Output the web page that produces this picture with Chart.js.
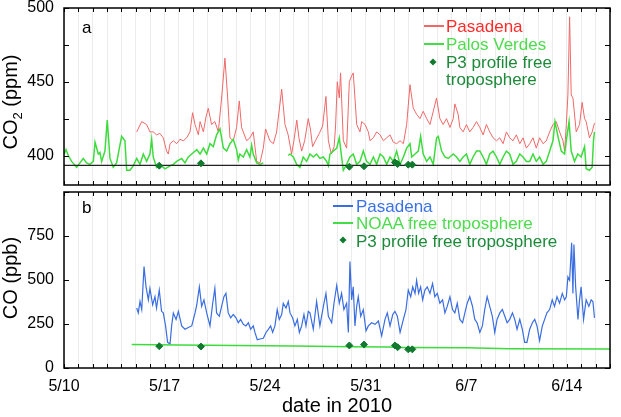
<!DOCTYPE html>
<html>
<head>
<meta charset="utf-8">
<script src="https://cdn.jsdelivr.net/npm/chart.js@4.4.1/dist/chart.umd.min.js"></script>
<style>
  body { margin: 0; background: #fff; font-family: "Liberation Sans", Arial, sans-serif; }
  #wrap { position: relative; width: 621px; height: 417px; overflow: hidden; }
  canvas { position: absolute; left: 0; }
  #top { top: 0; }
  #bot { top: 187px; }
  .t { position: absolute; white-space: nowrap; font-size: 17px; line-height: 17px; }
  .ln { position: absolute; width: 20px; height: 1.5px; }
  .dm { position: absolute; width: 5px; height: 5px; background: #127a2e; transform: translate(-50%, -50%) rotate(45deg); }
  .ax { position: absolute; white-space: nowrap; font-size: 20px; line-height: 20px; color: #000; }
  .rot { transform: translate(-50%, -50%) rotate(-90deg); }
</style>
</head>
<body>
<div id="wrap">
  <canvas id="top" width="621" height="190"></canvas>
  <canvas id="bot" width="621" height="230"></canvas>

  <div class="ax rot" style="left:10px; top:102px;">CO<sub style="font-size:13px; line-height:0;">2</sub> (ppm)</div>
  <div class="ax rot" style="left:10px; top:278px;">CO (ppb)</div>
  <div class="ax" style="left:337px; top:405px; transform: translate(-50%, -50%);">date in 2010</div>

  <div class="t" style="left:82px; top:19px;">a</div>
  <div class="t" style="left:82px; top:199px;">b</div>

  <div class="ln" style="left:424px; top:25px; background:#f06868;"></div>
  <div class="t" style="left:446px; top:17.5px; color:#ff2a2a;">Pasadena</div>
  <div class="ln" style="left:424px; top:43px; background:#44dd44;"></div>
  <div class="t" style="left:446px; top:35.5px; color:#4cdc4c;">Palos Verdes</div>
  <div class="dm" style="left:433px; top:62px;"></div>
  <div class="t" style="left:446px; top:53.5px; color:#1d8a3a;">P3 profile free</div>
  <div class="t" style="left:446px; top:71px; color:#1d8a3a;">troposphere</div>

  <div class="ln" style="left:333px; top:205px; background:#3a6ee0;"></div>
  <div class="t" style="left:356px; top:197.5px; color:#3a72e6;">Pasadena</div>
  <div class="ln" style="left:333px; top:222px; background:#44dd44;"></div>
  <div class="t" style="left:356px; top:215px; color:#4cdc4c;">NOAA free troposphere</div>
  <div class="dm" style="left:343px; top:240px;"></div>
  <div class="t" style="left:356px; top:233px; color:#1d8a3a;">P3 profile free troposphere</div>
</div>

<script>
// days since 5/10/2010
const xTickLabels = ["5/10", "5/17", "5/24", "5/31", "6/7", "6/14"];
const co2TickValues = [400, 425, 450, 475, 500];
const coTickValues = [0, 250, 500, 750, 1000];

const pasCo2Day = [5.06,5.41,5.75,5.98,6.21,6.44,6.67,6.91,7.14,7.26,7.38,7.61,7.84,8.07,8.3,8.54,8.77,8.95,9.12,9.35,9.47,9.7,9.88,10.04,10.27,10.5,10.74,10.97,11.2,11.39,11.55,11.78,12.01,12.2,12.36,12.71,12.94,13.17,13.41,13.64,13.87,14.03,14.33,14.57,14.8,15.15,15.38,15.6,15.84,16.0,16.2,16.35,16.54,16.75,17.0,17.15,17.3,17.5,17.77,18.0,18.23,18.4,18.6,18.8,18.9,19.02,19.16,19.25,19.44,19.67,19.86,20.02,20.13,20.25,20.37,20.6,20.72,20.95,21.18,21.3,21.53,21.76,22.0,22.23,22.46,22.69,22.92,23.15,23.39,23.62,23.85,23.96,24.08,24.31,24.54,24.77,25.0,25.24,25.47,25.7,25.93,26.16,26.39,26.62,26.86,27.09,27.2,27.43,27.55,27.78,28.01,28.24,28.47,28.71,28.94,29.17,29.4,29.63,29.86,30.1,30.33,30.56,30.79,31.02,31.25,31.48,31.72,31.95,32.18,32.41,32.64,32.87,33.1,33.34,33.57,33.8,34.03,34.26,34.49,34.73,34.84,34.96,35.07,35.19,35.3,35.42,35.65,35.88,36.06,36.23,36.34,36.57,36.76,36.92];
const pasCo2 = [416,423,421,416,416,414,415,412,403,401,408,410,408,411,410,412,416,429,421,414,423,416,426,432,421,423,416,439,466,439,412,410,419,437,419,410,412,416,396,395,405,418,410,408,416,445,421,414,401,410,424,412,403,410,425,418,406,410,415,420,440,410,401,406,420,450,439,456,410,405,450,454,456,439,421,416,423,421,416,410,412,416,414,410,412,414,409,408,410,408,421,434,448,432,428,425,430,425,421,430,439,425,421,425,419,425,435,428,419,416,421,416,419,423,419,414,421,416,412,410,412,408,416,412,410,414,408,412,405,408,412,405,412,408,410,416,421,423,416,410,403,421,441,494,441,439,416,421,436,425,423,412,416,422];

const pvDay = [0.02,0.14,0.3,0.53,0.88,1.11,1.34,1.57,1.8,2.04,2.16,2.39,2.5,2.62,2.85,3.01,3.2,3.43,3.66,4.01,4.24,4.36,4.59,4.82,5.06,5.29,5.52,5.75,5.98,6.1,6.21,6.44,6.67,7.03,7.38,7.61,7.84,8.19,8.42,8.65,8.89,9.24,9.47,9.7,9.93,10.16,10.39,10.62,10.86,11.09,11.32,11.55,11.78,12.01,12.13,12.24,12.48,12.71,12.94,13.06,13.17,13.41,13.64,13.87,14.7,15.61,15.73,15.96,16.19,16.42,16.65,16.89,17.12,17.35,17.58,17.81,18.05,18.28,18.4,18.51,18.74,18.98,19.16,19.32,19.44,19.67,19.9,20.13,20.37,20.6,20.83,21.06,21.3,21.53,21.76,22.0,22.23,22.46,22.69,22.92,23.15,23.39,23.62,23.85,24.08,24.2,24.43,24.66,24.82,25.0,25.24,25.47,25.7,25.93,26.05,26.28,26.51,26.74,27.09,27.32,27.55,27.78,28.01,28.24,28.47,28.71,28.94,29.17,29.4,29.63,29.86,30.1,30.33,30.56,30.79,31.02,31.25,31.48,31.72,31.95,32.18,32.41,32.64,32.87,33.1,33.34,33.57,33.8,34.03,34.17,34.4,34.61,34.84,34.96,35.15,35.3,35.53,35.76,35.99,36.23,36.34,36.57,36.76,36.85,36.92];
const pvCo2 = [401,404,400,396,392,395,398,395,394,396,409,401,402,396,403,424,398,392,395,413,410,390,390,393,398,394,401,396,401,411,399,392,394,391,393,394,396,398,395,399,401,404,401,405,401,408,406,414,418,405,403,408,411,404,397,401,399,404,399,407,401,395,394,395,null,400,401,399,394,392,399,396,401,399,401,398,399,396,393,401,403,405,412,399,390,394,399,401,394,396,403,396,394,399,394,401,399,394,399,396,403,394,399,405,408,399,401,403,413,401,396,399,394,412,413,403,399,398,401,399,396,399,401,394,399,403,403,399,394,401,403,399,394,399,403,401,394,396,401,399,396,396,401,396,399,394,396,403,410,423,412,403,401,410,423,403,396,401,399,406,391,390,392,410,416];

const ftCo2Day = [0, 38];
const ftCo2 = [393.3, 393.3];

const p3Day = [6.63, 9.53, 19.86, 20.88, 23.03, 23.22, 23.96, 24.24];
const p3Co2 = [393.1, 394.7, 392.4, 392.7, 395.3, 394.2, 393.8, 393.8];
const p3Co = [124, 122, 128, 133, 128, 118, 106, 106];

const pasCoDay = [5.06,5.17,5.29,5.41,5.57,5.71,5.87,5.98,6.17,6.33,6.44,6.63,6.79,6.91,7.07,7.21,7.38,7.49,7.61,7.8,7.96,8.19,8.42,8.65,8.89,9.12,9.24,9.42,9.58,9.74,9.93,10.16,10.35,10.5,10.62,10.81,10.97,11.13,11.27,11.43,11.6,11.78,11.97,12.13,12.29,12.48,12.66,12.83,12.99,13.17,13.29,13.45,13.64,13.87,14.06,14.22,14.38,14.52,14.68,14.84,14.98,15.15,15.26,15.45,15.61,15.73,15.91,16.07,16.24,16.38,16.54,16.7,16.84,17.0,17.12,17.35,17.58,17.81,18.05,18.23,18.4,18.63,18.79,18.98,19.16,19.32,19.48,19.67,19.79,19.9,20.02,20.13,20.25,20.37,20.48,20.65,20.83,21.02,21.18,21.41,21.65,21.88,22.11,22.34,22.5,22.69,22.88,23.03,23.2,23.39,23.62,23.8,23.96,24.13,24.27,24.43,24.54,24.68,24.82,24.96,25.12,25.28,25.47,25.65,25.81,25.98,26.16,26.35,26.51,26.67,26.86,27.04,27.2,27.37,27.55,27.74,27.9,28.06,28.24,28.43,28.59,28.75,28.94,29.12,29.28,29.45,29.63,29.81,29.98,30.14,30.33,30.51,30.68,30.84,31.02,31.21,31.37,31.53,31.72,31.9,32.06,32.22,32.41,32.6,32.76,32.92,33.1,33.29,33.45,33.61,33.8,33.98,34.14,34.31,34.49,34.68,34.84,34.96,35.07,35.19,35.33,35.42,35.49,35.61,35.77,35.88,35.99,36.16,36.34,36.53,36.69,36.81,36.92];
const pasCo = [341,313,378,332,576,461,387,452,359,405,341,443,322,313,239,146,137,239,313,276,322,239,220,230,239,313,359,461,350,387,313,239,368,452,313,294,350,405,424,313,285,304,285,257,276,248,239,257,220,239,202,161,165,169,202,220,239,202,239,332,276,304,368,341,378,313,285,239,276,202,239,304,239,322,313,220,378,239,350,424,294,257,368,470,368,424,332,368,202,605,387,461,239,350,405,294,332,211,239,257,248,267,183,276,313,239,304,322,294,202,276,332,443,405,461,424,498,424,461,387,443,461,424,480,405,424,368,387,313,350,405,332,313,368,276,257,313,368,405,350,276,257,202,239,332,405,350,294,202,276,313,332,294,257,276,313,276,220,276,220,146,146,220,257,276,239,156,239,276,313,332,387,350,405,368,424,387,405,517,498,711,424,702,461,276,387,461,276,387,350,387,378,285];

const noaaCoDay = [4.71, 8, 12, 16, 20, 22.6, 23.5, 28, 31, 38];
const noaaCo = [133, 131, 128, 125, 121, 119, 117, 115, 110, 108];

function pts(xs, ys) { return xs.map((x, i) => ({ x: x, y: ys[i] })); }

const FONT = { family: "'Liberation Sans', Arial, sans-serif", size: 16 };

// black box round the plot, ticks pointing inwards on all four sides
const boxTicks = {
  id: 'boxTicks',
  afterDraw(chart) {
    const { ctx, chartArea: a, scales: { x, y } } = chart;
    ctx.save();
    ctx.strokeStyle = '#000';
    ctx.lineWidth = 1;
    ctx.beginPath();
    x.ticks.forEach(t => {
      const px = Math.round(x.getPixelForValue(t.value)) + 0.5;
      ctx.moveTo(px, a.bottom); ctx.lineTo(px, a.bottom - 4);
      ctx.moveTo(px, a.top); ctx.lineTo(px, a.top + 4);
    });
    y.ticks.forEach(t => {
      const py = Math.round(y.getPixelForValue(t.value)) + 0.5;
      ctx.moveTo(a.left, py); ctx.lineTo(a.left + 5, py);
      ctx.moveTo(a.right, py); ctx.lineTo(a.right - 5, py);
    });
    ctx.stroke();
    ctx.lineWidth = 1.5;
    ctx.strokeRect(a.left, a.top, a.right - a.left, a.bottom - a.top);
    ctx.restore();
  }
};

function xAxis(showLabels, h) {
  return {
    type: 'linear', min: 0, max: 38,
    border: { display: false },
    grid: { color: '#ececec', lineWidth: 1, drawTicks: false },
    ticks: {
      display: showLabels, stepSize: 1, autoSkip: false, maxTicksLimit: 100, maxRotation: 0,
      padding: 9, color: '#000', font: FONT,
      callback: v => (v % 7 === 0 ? xTickLabels[v / 7] : '')
    },
    afterFit: s => { s.height = h; s.paddingLeft = 0; s.paddingRight = 0; }
  };
}

function yAxis(min, max, tickValues, labelStep) {
  return {
    min: min, max: max,
    border: { display: false },
    grid: { display: false, drawTicks: false },
    ticks: {
      padding: 10, color: '#000', font: FONT,
      callback: v => (v % labelStep === 0 && v < 1000 ? String(v) : '')
    },
    afterBuildTicks: s => { s.ticks = tickValues.map(v => ({ value: v })); },
    afterFit: s => { s.width = 64; s.paddingTop = 0; s.paddingBottom = 0; }
  };
}

const common = {
  responsive: false, animation: false,
  plugins: { legend: { display: false }, tooltip: { enabled: false } },
  elements: { point: { radius: 0 } }
};

new Chart(document.getElementById('top'), {
  type: 'line',
  data: {
    datasets: [
      { data: pts(p3Day, p3Co2), showLine: false, pointStyle: 'rectRot', pointRadius: 3.5,
        backgroundColor: '#127a2e', borderColor: '#127a2e', order: 0 },
      { data: pts(ftCo2Day, ftCo2), borderColor: '#222', borderWidth: 1.2, order: 1 },
      { data: pts(pvDay, pvCo2), borderColor: '#3ddc3d', borderWidth: 1.5, spanGaps: false, order: 2 },
      { data: pts(pasCo2Day, pasCo2), borderColor: '#f06868', borderWidth: 1, order: 3 }
    ]
  },
  options: Object.assign({}, common, {
    layout: { padding: { top: 8, right: 11, bottom: 2, left: 0 } },
    scales: { x: xAxis(false, 0), y: yAxis(380, 500, co2TickValues, 50) }
  }),
  plugins: [boxTicks]
});

new Chart(document.getElementById('bot'), {
  type: 'line',
  data: {
    datasets: [
      { data: pts(p3Day, p3Co), showLine: false, pointStyle: 'rectRot', pointRadius: 3.5,
        backgroundColor: '#127a2e', borderColor: '#127a2e', order: 0 },
      { data: pts(noaaCoDay, noaaCo), borderColor: '#3ddc3d', borderWidth: 1.5, order: 1 },
      { data: pts(pasCoDay, pasCo), borderColor: '#3a6ee0', borderWidth: 1.2, order: 2 }
    ]
  },
  options: Object.assign({}, common, {
    layout: { padding: { top: 1, right: 11, bottom: 0, left: 0 } },
    scales: { x: xAxis(true, 49), y: yAxis(0, 1000, coTickValues, 250) }
  }),
  plugins: [boxTicks]
});
</script>
</body>
</html>
